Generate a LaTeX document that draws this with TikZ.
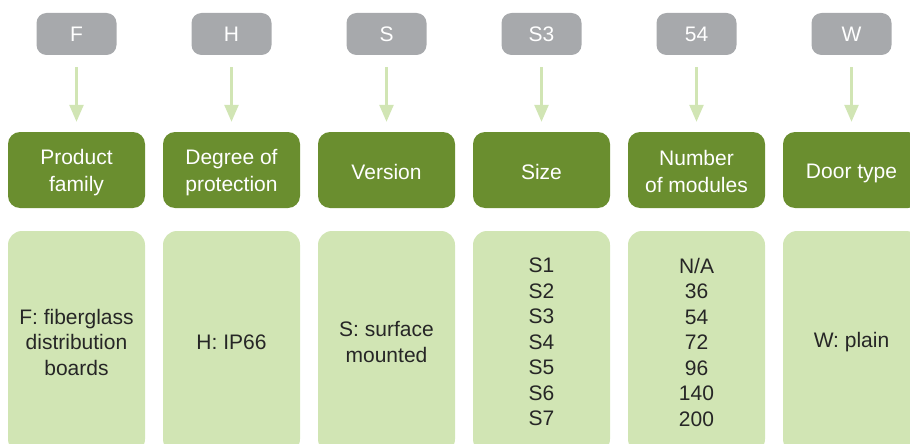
\documentclass[tikz,border=0pt]{standalone}
\usepackage{fontspec}
\setmainfont{Liberation Sans}
\usetikzlibrary{arrows.meta}
\definecolor{codegray}{HTML}{A7A9AC}
\definecolor{darkgreen}{HTML}{6A8E2F}
\definecolor{lightgreen}{HTML}{D1E5B4}
\definecolor{textdark}{HTML}{262626}
\tikzset{
  codebox/.style={fill=codegray, rounded corners=10pt, minimum width=80pt, minimum height=42pt,
    text=white, font=\fontsize{21}{24}\selectfont, inner sep=0pt},
  headbox/.style={fill=darkgreen, rounded corners=12pt, minimum width=137pt, minimum height=76pt, inner sep=0pt},
  headtext/.style={text=white, font=\fontsize{21}{27}\selectfont, align=center, inner sep=0pt},
  valbox/.style={fill=lightgreen, rounded corners=14pt, minimum width=137pt, minimum height=222pt,
    text=textdark, font=\fontsize{21}{25.5}\selectfont, align=center, inner sep=0pt},
  arr/.style={draw=lightgreen, line width=2.5pt, -{Triangle[width=14pt,length=17pt]},
    shorten <=12pt, shorten >=10pt},
}
\begin{document}
\begin{tikzpicture}[x=1pt,y=-1pt]
\useasboundingbox (0,0) rectangle (910,444);
\clip (0,0) rectangle (910,444);
\foreach \i/\x/\c/\h/\v/\s in {
  1/76.5/F/{Product\\family}/{F: fiberglass\\distribution\\boards}/3,
  2/231.5/H/{Degree of\\protection}/{H: IP66}/3,
  3/386.5/S/{Version}/{S: surface\\mounted}/1.5,
  4/541.5/S3/{Size}/{S1\\S2\\S3\\S4\\S5\\S6\\S7}/1.5,
  5/696.5/54/{Number\\of modules}/{N/A\\36\\54\\72\\96\\140\\200}/1,
  6/851.5/W/{Door type}/{W: plain}/3} {
  \node[codebox] (c\i) at (\x,34) {\c};
  \node[headbox] (h\i) at (\x,170) {};
  \node[headtext] (t\i) at ([yshift=-\s pt]h\i.center) {\h};
  \node[valbox] (v\i) at (\x,342) {\v};
  \draw[arr] (c\i.south) -- (h\i.north);
}
\end{tikzpicture}
\end{document}
